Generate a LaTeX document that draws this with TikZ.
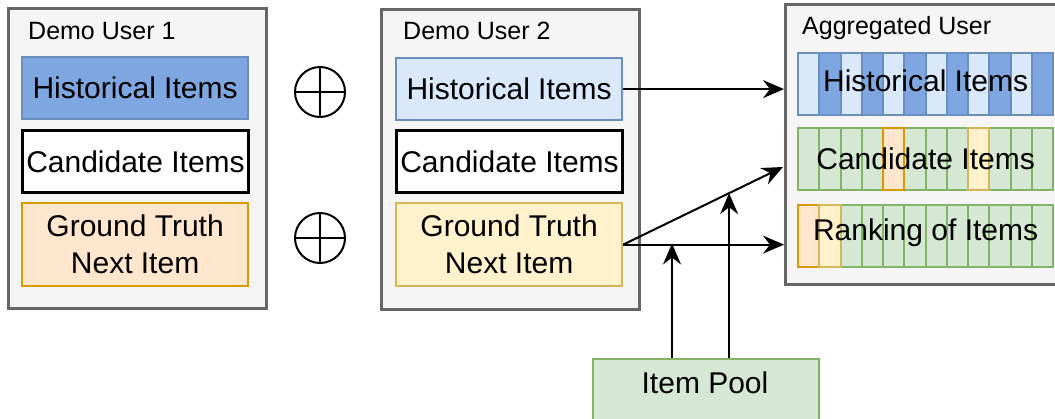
\documentclass[tikz,border=0pt]{standalone}
\usepackage{fontspec}
\setmainfont{Liberation Sans}
\usetikzlibrary{arrows.meta,calc}

\definecolor{panelfill}{HTML}{F5F5F5}
\definecolor{panelline}{HTML}{666666}
\definecolor{bluedark}{HTML}{7EA6E0}
\definecolor{bluelight}{HTML}{DAE8FC}
\definecolor{blueline}{HTML}{6C8EBF}
\definecolor{peachfill}{HTML}{FFE6CC}
\definecolor{peachline}{HTML}{D79B00}
\definecolor{yellowfill}{HTML}{FFF2CC}
\definecolor{yellowline}{HTML}{D6B656}
\definecolor{greenfill}{HTML}{D5E8D4}
\definecolor{greenline}{HTML}{82B366}

\newcommand{\bodyfont}{\fontsize{30}{37}\selectfont}
\newcommand{\titlefont}{\fontsize{25}{30}\selectfont}

\begin{document}
\begin{tikzpicture}[x=1pt,y=-1pt,
  panel/.style={draw=panelline, fill=panelfill, line width=2.8pt,
    anchor=north west, inner sep=0pt, minimum width=258pt, minimum height=300pt},
  paneltitle/.style={anchor=base west, inner sep=0pt, font=\titlefont},
  itembox/.style={line width=2.2pt, anchor=north west, inner sep=0pt,
    minimum width=226pt, minimum height=62pt, font=\bodyfont, align=center},
  oneline/.style={text height=21pt, text depth=0pt},
  cell/.style={line width=2.2pt, anchor=north west, inner sep=0pt,
    minimum width=21.25pt, minimum height=62pt},
  bluecellA/.style={cell, fill=bluelight, draw=blueline},
  bluecellB/.style={cell, fill=bluedark, draw=blueline},
  greencell/.style={cell, fill=greenfill, draw=greenline},
  peachcell/.style={cell, fill=peachfill, draw=peachline},
  yellowcell/.style={cell, fill=yellowfill, draw=yellowline},
  striptext/.style={font=\bodyfont, inner sep=0pt, text height=21pt, text depth=0pt},
  oplus/.style={draw, circle, line width=2pt, minimum size=50pt, inner sep=0pt, outer sep=0pt},
  conn/.style={line width=2pt, -{Stealth[length=21pt,width=18pt,inset=7pt]}}
]
\clip (0,0) rectangle (1055,418);

% ---------- Demo User 1 ----------
\node[panel] (u1) at (7,7) {};
\node[paneltitle] (u1title) at (28,39) {Demo User 1};
\node[itembox, oneline, fill=bluedark, draw=blueline] (u1hist) at (21,56) {Historical Items};
\node[itembox, oneline, fill=white, draw=black, line width=3pt] (u1cand) at (21,129) {Candidate Items};
\node[itembox, fill=peachfill, draw=peachline, minimum height=83pt] (u1gt) at (21,202) {Ground Truth\\Next Item};

% ---------- combination symbols ----------
\node[oplus] (plusA) at (320,92) {};
\draw[line width=2pt] (plusA.north) -- (plusA.south) (plusA.west) -- (plusA.east);
\node[oplus] (plusB) at (320,238) {};
\draw[line width=2pt] (plusB.north) -- (plusB.south) (plusB.west) -- (plusB.east);

% ---------- Demo User 2 ----------
\node[panel] (u2) at (380,8) {};
\node[paneltitle] (u2title) at (403,39) {Demo User 2};
\node[itembox, oneline, fill=bluelight, draw=blueline] (u2hist) at (395,57) {Historical Items};
\node[itembox, oneline, fill=white, draw=black, line width=3pt] (u2cand) at (395,129) {Candidate Items};
\node[itembox, fill=yellowfill, draw=yellowline, minimum height=83pt] (u2gt) at (395,202) {Ground Truth\\Next Item};

% ---------- Aggregated User ----------
\node[panel, minimum width=290pt, minimum height=280pt] (agg) at (784,3) {};
\node[paneltitle] (aggtitle) at (802,34) {Aggregated User};

% historical strip: alternating light / dark cells
\foreach \i in {1,3,...,11} {
  \node[bluecellA] (h\i) at ({797+21.25*(\i-1)},52) {};
}
\foreach \i in {2,4,...,12} {
  \node[bluecellB] (h\i) at ({797+21.25*(\i-1)},52) {};
}
\node[striptext] (htxt) at ($(h1.west)!0.5!(h12.east)+(0,-3)$) {Historical Items};

% candidate strip: green cells with two ground-truth items mixed in
\foreach \i in {1,2,3,4,6,7,8,10,11,12} {
  \node[greencell] (c\i) at ({797+21.25*(\i-1)},127) {};
}
\node[peachcell] (c5) at ({797+21.25*4},127) {};
\node[yellowcell] (c9) at ({797+21.25*8},127) {};
\node[striptext] (ctxt) at ($(c1.west)!0.5!(c12.east)$) {Candidate Items};

% ranking strip: ground-truth items ranked first
\foreach \i in {3,...,12} {
  \node[greencell] (r\i) at ({797+21.25*(\i-1)},204) {};
}
\node[peachcell] (r1) at (797,204) {};
\node[yellowcell] (r2) at ({797+21.25},204) {};
\node[striptext] (rtxt) at ($(r1.west)!0.5!(r12.east)+(0,-6)$) {Ranking of Items};

% ---------- Item Pool ----------
\node[draw=greenline, fill=greenfill, line width=2.2pt, anchor=north west,
      inner sep=0pt, minimum width=226pt, minimum height=80pt] (pool) at (592,358) {};
\node[striptext] (pooltxt) at (705,383) {Item Pool};

% ---------- connectors ----------
\coordinate (candIn) at (783,167);
\coordinate (j1) at (672,243.5);
\coordinate (j2) at ($(u2gt.east)!0.6626!(candIn)$);

\draw[conn] (u2hist.east) -- (u2hist.east -| agg.west);
\draw[conn] (u2gt.east) -- (u2gt.east -| agg.west);
\draw[conn] (u2gt.east) -- (candIn);
\draw[conn] (pool.north -| j1) -- (j1);
\draw[conn] (pool.north -| j2) -- (j2);
\end{tikzpicture}
\end{document}
